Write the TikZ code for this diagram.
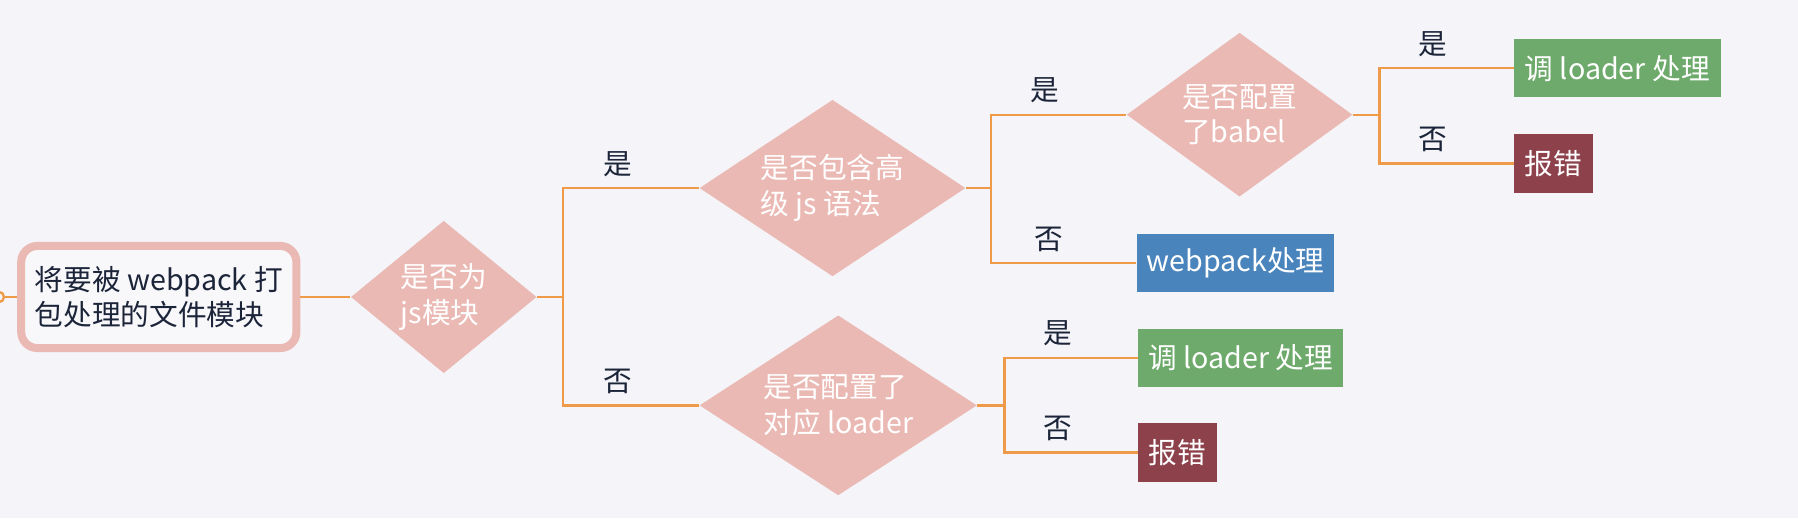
\documentclass[tikz,border=0pt]{standalone}
\usepackage{fontspec}
\setmainfont{Noto Sans CJK SC}
\usetikzlibrary{shapes.geometric}

\definecolor{bgcol}{RGB}{244,244,249}
\definecolor{rosecol}{RGB}{235,185,180}
\definecolor{wirecol}{RGB}{239,154,72}
\definecolor{okcol}{RGB}{110,170,107}
\definecolor{errcol}{RGB}{140,65,75}
\definecolor{packcol}{RGB}{74,132,188}
\definecolor{inkcol}{RGB}{27,36,56}

\newcommand\px{0.5pt}

\tikzset{
  wire/.style={draw=wirecol, line width=1pt},
  ask/.style={diamond, fill=rosecol, inner sep=0pt, text=white, align=left},
  endbox/.style={rectangle, anchor=west, inner sep=0pt, text=white,
    minimum height=51*\px},
  branch/.style={pos=0.7, above, text=inkcol, inner sep=4.5pt},
}

\begin{document}
\begin{tikzpicture}[x=\px, y=-\px]

  \fontsize{12.5}{15.5}\selectfont

  \useasboundingbox[fill=bgcol] (0,0) rectangle (1568,452);

  %% start of the chart
  \node[circle, draw=wirecol, fill=bgcol, line width=1pt, inner sep=0pt,
    minimum size=9*\px] (dot) at (-1,259) {};
  \node[draw=rosecol, line width=3.5pt, rounded corners=7pt, fill=white!35!bgcol,
    text=inkcol, align=left, minimum width=240*\px, minimum height=89*\px]
    (file) at (138.5,259) {将要被 webpack 打\\包处理的文件模块};

  %% questions
  \node[ask, aspect=1.22, minimum width=162*\px, minimum height=133*\px]
    (isjs) at (387,259) {是否为\\js模块};
  \node[ask, aspect=1.5, minimum width=232*\px, minimum height=154*\px]
    (hasnew) at (726,164) {是否包含高\\级 js 语法};
  \node[ask, aspect=1.54, minimum width=242*\px, minimum height=157*\px]
    (hasloader) at (731,353.5) {是否配置了\\对应 loader};
  \node[ask, aspect=1.38, minimum width=197*\px, minimum height=143*\px]
    (hasbabel) at (1081,100) {是否配置\\了babel};

  %% outcomes
  \node[endbox, fill=okcol, minimum width=180*\px] (babelok) at (1320,59.5) {调 loader 处理};
  \node[endbox, fill=errcol, minimum width=69*\px] (babelerr) at (1320,142.5) {报错};
  \node[endbox, fill=packcol, minimum width=172*\px] (packok) at (991,229.5) {webpack处理};
  \node[endbox, fill=okcol, minimum width=179*\px] (loaderok) at (992,312) {调 loader 处理};
  \node[endbox, fill=errcol, minimum width=69*\px] (loadererr) at (992,394.5) {报错};

  %% junctions
  \coordinate (j1) at (491,259);
  \coordinate (j2) at (864,164);
  \coordinate (j3) at (1203,100);
  \coordinate (j4) at (876,353.5);

  \draw[wire] (dot) -- (file);
  \draw[wire] (file) -- (isjs);

  \draw[wire] (isjs) -- (j1);
  \draw[wire] (j1) |- node[branch]{是} (hasnew);
  \draw[wire] (j1) |- node[branch]{否} (hasloader);

  \draw[wire] (hasnew) -- (j2);
  \draw[wire] (j2) |- node[branch]{是} (hasbabel);
  \draw[wire] (j2) |- node[branch]{否} (packok);

  \draw[wire] (hasbabel) -- (j3);
  \draw[wire] (j3) |- node[branch]{是} (babelok);
  \draw[wire] (j3) |- node[branch]{否} (babelerr);

  \draw[wire] (hasloader) -- (j4);
  \draw[wire] (j4) |- node[branch]{是} (loaderok);
  \draw[wire] (j4) |- node[branch]{否} (loadererr);

\end{tikzpicture}
\end{document}
